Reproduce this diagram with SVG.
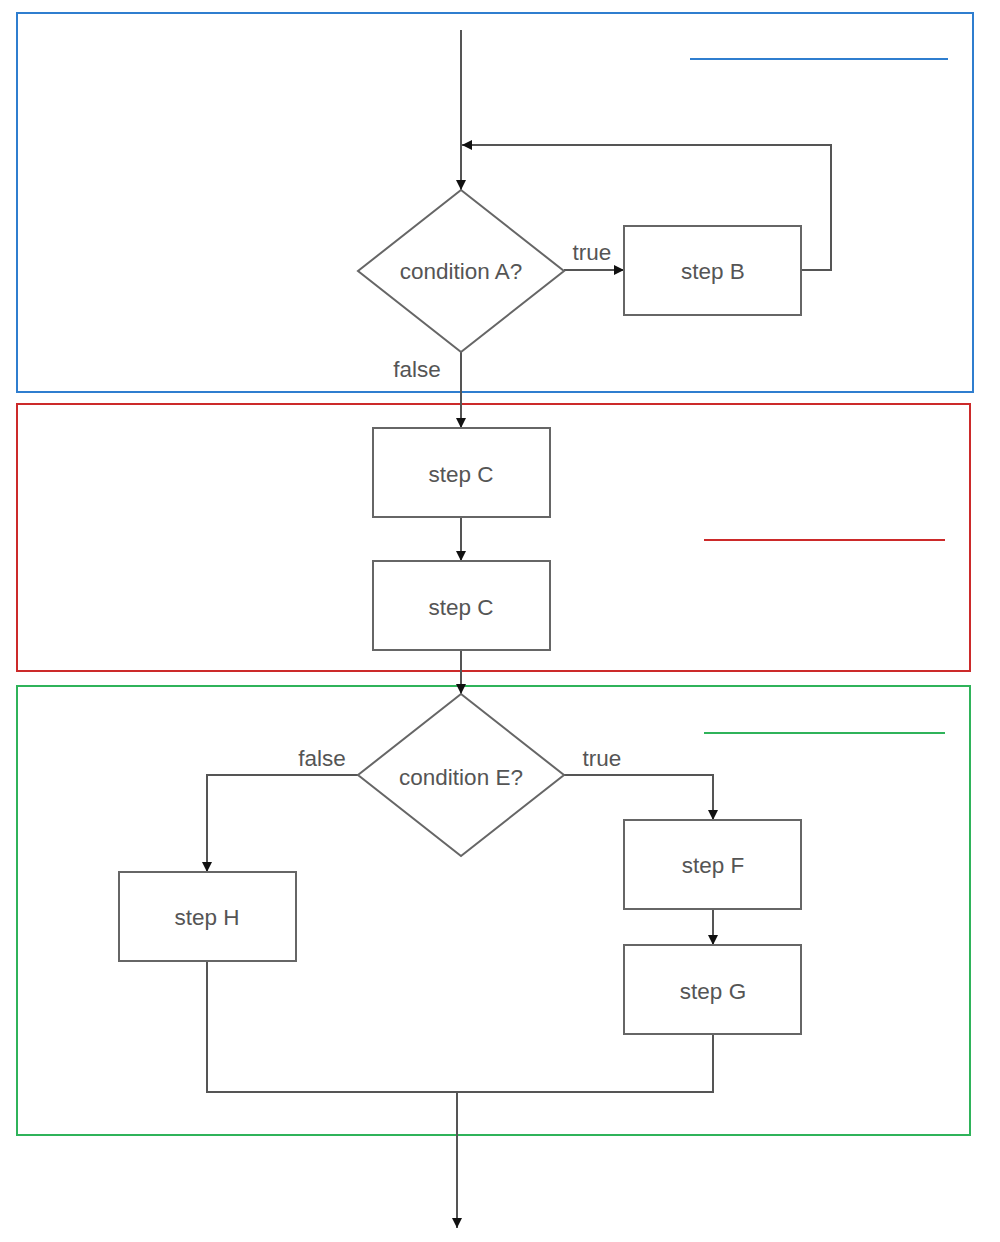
<svg xmlns="http://www.w3.org/2000/svg" width="1000" height="1242" viewBox="0 0 1000 1242">
<style>
.node{fill:#fff;stroke:#666;stroke-width:2}
.lbl{font-family:"Liberation Sans",Arial,sans-serif;font-size:22.5px;fill:#555;text-anchor:middle;dominant-baseline:central}
.edge{fill:none;stroke:#555;stroke-width:2}
</style>
<defs>
<marker id="arrB" viewBox="0 0 10 10" refX="10" refY="5" markerWidth="10" markerHeight="10" orient="auto" markerUnits="userSpaceOnUse">
<path d="M0,0 L10,5 L0,10 z" fill="#111"/>
</marker>
</defs>
<rect width="1000" height="1242" fill="#fff"/>
<g id="frames">
<rect x="17" y="13" width="956" height="379" fill="none" stroke="#2f7ecf" stroke-width="2"/>
<line x1="690" y1="59" x2="948" y2="59" stroke="#2f7ecf" stroke-width="2"/>
<rect x="17" y="404" width="953" height="267" fill="none" stroke="#cc2a2a" stroke-width="2"/>
<line x1="704" y1="540" x2="945" y2="540" stroke="#cc2a2a" stroke-width="2"/>
<rect x="17" y="686" width="953" height="449" fill="none" stroke="#2fb35a" stroke-width="2"/>
<line x1="704" y1="733" x2="945" y2="733" stroke="#2fb35a" stroke-width="2"/>
</g>
<g id="connectors">
<line class="edge" x1="461" y1="30" x2="461" y2="190" marker-end="url(#arrB)"/>
<polyline class="edge" points="801,270 831,270 831,145 462,145" marker-end="url(#arrB)"/>
<line class="edge" x1="564" y1="270" x2="624" y2="270" marker-end="url(#arrB)"/>
<line class="edge" x1="461" y1="352" x2="461" y2="428" marker-end="url(#arrB)"/>
<line class="edge" x1="461" y1="517" x2="461" y2="561" marker-end="url(#arrB)"/>
<line class="edge" x1="461" y1="650" x2="461" y2="694" marker-end="url(#arrB)"/>
<polyline class="edge" points="358,775 207,775 207,872" marker-end="url(#arrB)"/>
<polyline class="edge" points="564,775 713,775 713,820" marker-end="url(#arrB)"/>
<line class="edge" x1="713" y1="909" x2="713" y2="945" marker-end="url(#arrB)"/>
<polyline class="edge" points="207,961 207,1092 713,1092 713,1034"/>
<line class="edge" x1="457" y1="1092" x2="457" y2="1228" marker-end="url(#arrB)"/>
<text class="lbl" x="592" y="252">true</text>
<text class="lbl" x="417" y="369">false</text>
<text class="lbl" x="322" y="758">false</text>
<text class="lbl" x="602" y="758">true</text>
</g>
<g id="condA">
<polygon class="node" points="461,190 564,271 461,352 358,271"/>
<text class="lbl" x="461" y="271">condition A?</text>
</g>
<g id="stepB">
<rect class="node" x="624" y="226" width="177" height="89"/>
<text class="lbl" x="713" y="271">step B</text>
</g>
<g id="stepC1">
<rect class="node" x="373" y="428" width="177" height="89"/>
<text class="lbl" x="461" y="474">step C</text>
</g>
<g id="stepC2">
<rect class="node" x="373" y="561" width="177" height="89"/>
<text class="lbl" x="461" y="607">step C</text>
</g>
<g id="condE">
<polygon class="node" points="461,694 564,775 461,856 358,775"/>
<text class="lbl" x="461" y="777">condition E?</text>
</g>
<g id="stepH">
<rect class="node" x="119" y="872" width="177" height="89"/>
<text class="lbl" x="207" y="917">step H</text>
</g>
<g id="stepF">
<rect class="node" x="624" y="820" width="177" height="89"/>
<text class="lbl" x="713" y="865">step F</text>
</g>
<g id="stepG">
<rect class="node" x="624" y="945" width="177" height="89"/>
<text class="lbl" x="713" y="991">step G</text>
</g>
</svg>
